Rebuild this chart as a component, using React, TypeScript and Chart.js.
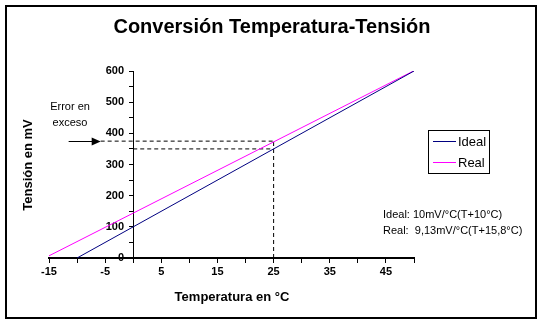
import React, { useEffect, useRef } from 'react';
import { Chart, registerables } from 'chart.js';

Chart.register(...registerables);

// ---- data ----
const tempIdeal = [-10, 50];
const mvIdeal = [0, 600];
const tempReal = [-15, 50];
const mvReal = [7, 601];
const seriesNames = ['Ideal', 'Real'];
const seriesColors = ['#000080', '#FF00FF'];

const guideTemp = 25;
const guideReal = 375;
const guideIdeal = 350;
const arrowFrom = -11.5;
const arrowTo = -5.8;

const xLabeledTicks = [-15, -5, 5, 15, 25, 35, 45];
const yLabeledTicks = [0, 100, 200, 300, 400, 500, 600];

const titleText = 'Conversión Temperatura-Tensión';
const xTitleText = 'Temperatura en °C';
const yTitleText = 'Tensión en mV';
const noteLines = ['Error en', 'exceso'];
const formulaLines = ['Ideal: 10mV/°C(T+10°C)', 'Real:  9,13mV/°C(T+15,8°C)'];

const FONT = "'Liberation Sans', Arial, Helvetica, sans-serif";

const decorPlugin = {
  id: 'decor',
  afterDraw(chart: any) {
    const ctx = chart.ctx as CanvasRenderingContext2D;
    const xs = chart.scales.x;
    const ys = chart.scales.y;
    ctx.save();
    // frame
    ctx.strokeStyle = '#000';
    ctx.lineWidth = 2;
    ctx.strokeRect(6, 6, 530, 312);

    ctx.fillStyle = '#000';
    // title
    ctx.font = `bold 20px ${FONT}`;
    ctx.textAlign = 'center';
    ctx.textBaseline = 'middle';
    ctx.fillText(titleText, 272, 27);

    // x title
    ctx.font = `bold 13px ${FONT}`;
    ctx.fillText(xTitleText, 232, 297);

    // y title
    ctx.save();
    ctx.translate(28, 165);
    ctx.rotate(-Math.PI / 2);
    ctx.fillText(yTitleText, 0, 0);
    ctx.restore();

    // note
    ctx.font = `11px ${FONT}`;
    ctx.fillText(noteLines[0], 70, 107);
    ctx.fillText(noteLines[1], 70, 123);

    // arrow
    const ay = Math.round(ys.getPixelForValue(guideReal)) + 0.5;
    const ax1 = xs.getPixelForValue(arrowFrom);
    const ax2 = xs.getPixelForValue(arrowTo);
    ctx.lineWidth = 1;
    ctx.beginPath();
    ctx.moveTo(ax1, ay);
    ctx.lineTo(ax2 - 8, ay);
    ctx.stroke();
    ctx.beginPath();
    ctx.moveTo(ax2, ay);
    ctx.lineTo(ax2 - 9, ay - 4);
    ctx.lineTo(ax2 - 9, ay + 4);
    ctx.closePath();
    ctx.fill();

    // formula text
    ctx.textAlign = 'left';
    ctx.fillText(formulaLines[0], 383, 215);
    ctx.fillText(formulaLines[1], 383, 231);

    // legend
    ctx.lineWidth = 1;
    ctx.strokeRect(428.5, 130.5, 61, 43);
    ctx.font = `13px ${FONT}`;
    const rows = [141, 162];
    seriesNames.forEach((name, i) => {
      ctx.strokeStyle = seriesColors[i];
      ctx.beginPath();
      ctx.moveTo(433, rows[i] + 0.5);
      ctx.lineTo(456, rows[i] + 0.5);
      ctx.stroke();
      ctx.fillStyle = '#000';
      ctx.fillText(name, 458, rows[i] + 1);
    });
    ctx.restore();
  },
};

export default function App() {
  const ref = useRef<HTMLCanvasElement>(null);
  useEffect(() => {
    if (!ref.current) return;
    const dashed = {
      borderColor: '#000',
      borderWidth: 1,
      borderDash: [4, 3],
      pointRadius: 0,
      fill: false,
    };
    const chart = new Chart(ref.current, {
      type: 'line',
      data: {
        datasets: [
          {
            label: seriesNames[0],
            data: tempIdeal.map((t, i) => ({ x: t, y: mvIdeal[i] })),
            borderColor: seriesColors[0],
            borderWidth: 1,
            pointRadius: 0,
            fill: false,
          },
          {
            label: seriesNames[1],
            data: tempReal.map((t, i) => ({ x: t, y: mvReal[i] })),
            borderColor: seriesColors[1],
            borderWidth: 1,
            pointRadius: 0,
            fill: false,
          },
          {
            label: 'g1',
            data: [
              { x: guideTemp, y: 0 },
              { x: guideTemp, y: guideReal },
            ],
            ...dashed,
          },
          {
            label: 'g2',
            data: [
              { x: arrowTo, y: guideReal },
              { x: guideTemp, y: guideReal },
            ],
            ...dashed,
          },
          {
            label: 'g3',
            data: [
              { x: 0, y: guideIdeal },
              { x: guideTemp, y: guideIdeal },
            ],
            ...dashed,
          },
        ],
      },
      options: {
        responsive: false,
        animation: false,
        events: [],
        layout: { padding: { left: 49, right: 130, top: 71, bottom: 66 } },
        plugins: { legend: { display: false }, tooltip: { enabled: false }, title: { display: false } },
        scales: {
          x: {
            type: 'linear',
            min: -15,
            max: 50,
            position: { y: 0 } as any,
            grid: { display: true, drawOnChartArea: false, tickLength: 4, tickColor: '#000' },
            border: { display: true, color: '#000', width: 2 },
            ticks: {
              stepSize: 5,
              autoSkip: false,
              maxRotation: 0,
              padding: 3,
              color: '#000',
              font: { family: FONT, size: 11, weight: 'bold' },
              callback: (v: any) => (xLabeledTicks.includes(Number(v)) ? String(v) : ''),
            },
          },
          y: {
            type: 'linear',
            min: 0,
            max: 600,
            position: { x: 0 } as any,
            grid: { display: true, drawOnChartArea: false, tickLength: 4, tickColor: '#000' },
            border: { display: true, color: '#000', width: 1 },
            ticks: {
              stepSize: 50,
              autoSkip: false,
              color: '#000',
              font: { family: FONT, size: 11, weight: 'bold' },
              callback: (v: any) => (yLabeledTicks.includes(Number(v)) ? String(v) + '   ' : ''),
            },
          },
        },
      },
      plugins: [decorPlugin],
    });
    return () => chart.destroy();
  }, []);
  return (
    <div style={{ position: 'fixed', left: 0, top: 0, width: 544, height: 324, background: '#fff' }}>
      <canvas ref={ref} width={544} height={324} style={{ display: 'block' }} />
    </div>
  );
}
